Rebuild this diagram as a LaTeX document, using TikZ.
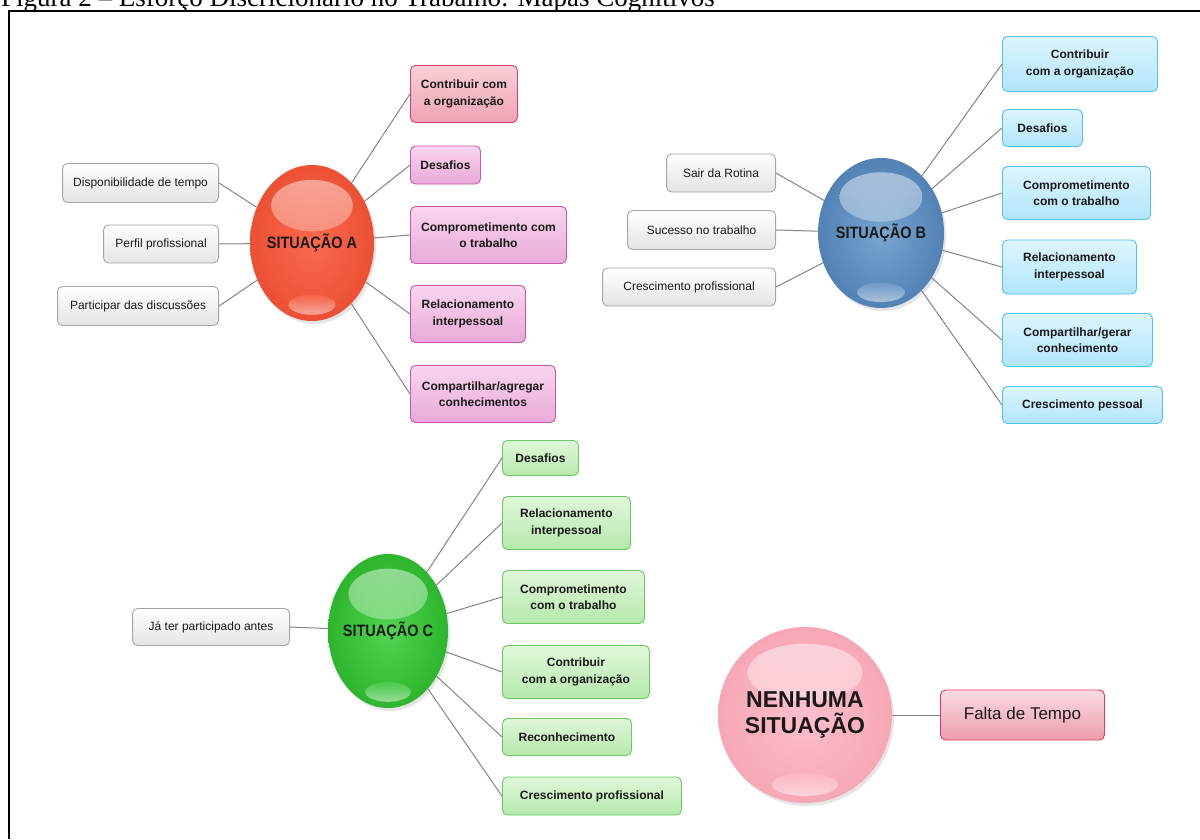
\documentclass[tikz,border=0pt]{standalone}
\usepackage{fontspec}
\setmainfont{Liberation Sans}
\newfontfamily\titlefont{Liberation Serif}
\newfontfamily\narrowfont[FakeStretch=0.88]{Liberation Sans}
\usetikzlibrary{shapes.geometric,shadows}
\definecolor{grayfill}{HTML}{E4E4E4}
\definecolor{graybd}{HTML}{A6A6A6}
\definecolor{redtop}{HTML}{FAD0D6}
\definecolor{redbot}{HTML}{EFA3B2}
\definecolor{redbd}{HTML}{D9436A}
\definecolor{pinktop}{HTML}{F9D6EE}
\definecolor{pinkbot}{HTML}{E9A9D8}
\definecolor{pinkbd}{HTML}{CC55A8}
\definecolor{bluetop}{HTML}{DDF5FE}
\definecolor{bluebot}{HTML}{B2E5FA}
\definecolor{bluebd}{HTML}{50C2EE}
\definecolor{greentop}{HTML}{E0F7DA}
\definecolor{greenbot}{HTML}{B6E9AC}
\definecolor{greenbd}{HTML}{6CC766}
\definecolor{faltatop}{HTML}{FCDCE2}
\definecolor{faltabot}{HTML}{EB9CAD}
\definecolor{faltabd}{HTML}{E03A58}
\definecolor{Abase}{HTML}{FA6A4F}
\definecolor{Aedge}{HTML}{EC5034}
\definecolor{Bbase}{HTML}{78A6D2}
\definecolor{Bedge}{HTML}{5282B4}
\definecolor{Cbase}{HTML}{52D452}
\definecolor{Cedge}{HTML}{2DB52D}
\definecolor{Nbase}{HTML}{FFBFCA}
\definecolor{Nedge}{HTML}{F6A7B6}
\definecolor{connc}{HTML}{858585}
\newcommand\bubblegloss[3]{%
  \shade[top color=white, bottom color=#3, opacity=0.5]
    ([yshift=0.48*#2]path picture bounding box.center) ellipse [x radius=0.66*#1, y radius=0.33*#2];
  \shade[top color=#3, bottom color=white, opacity=0.5]
    ([yshift=-0.79*#2]path picture bounding box.center) ellipse [x radius=0.38*#1, y radius=0.13*#2];
}
\begin{document}
\begin{tikzpicture}[x=1pt,y=-1pt,
  box/.style={rectangle, rounded corners=5pt, line width=0.9pt, inner sep=0pt, align=center,
    font=\fontsize{12}{16.5}\selectfont, text=black!90},
  gbox/.style={box, draw=graybd, top color=white, bottom color=grayfill, anchor=east},
  redbox/.style={box, draw=redbd, top color=redtop, bottom color=redbot, font=\bfseries\fontsize{12}{16.5}\selectfont, anchor=west},
  pinkbox/.style={box, draw=pinkbd, top color=pinktop, bottom color=pinkbot, font=\bfseries\fontsize{12}{16.5}\selectfont, anchor=west},
  bluebox/.style={box, draw=bluebd, top color=bluetop, bottom color=bluebot, font=\bfseries\fontsize{12}{16.5}\selectfont, anchor=west},
  greenbox/.style={box, draw=greenbd, top color=greentop, bottom color=greenbot, font=\bfseries\fontsize{12}{16.5}\selectfont, anchor=west},
  faltabox/.style={box, draw=faltabd, top color=faltatop, bottom color=faltabot, font=\fontsize{17}{20}\selectfont, anchor=west},
  bubble/.style={ellipse, inner ysep=0pt, inner xsep=-30pt, align=center, text=black!90,
    drop shadow={shadow xshift=2pt, shadow yshift=-3pt, opacity=0.2},
    font=\narrowfont\bfseries\fontsize{16.5}{18}\selectfont},
  conn/.style={draw=connc, line width=1pt}
]
\clip (0,0) rectangle (1200,839);
\useasboundingbox (0,0) rectangle (1200,839);
\fill[white] (0,0) rectangle (1200,839);
% title and frame
\node[anchor=base west, inner sep=0pt, font=\titlefont\fontsize{27}{27}\selectfont] (title) at (1,6)
  {Figura 2 – Esforço Discricionário no Trabalho: Mapas Cognitivos};
\draw[line width=2pt] (9,839) -- (9,11) -- (1200,11);

% ---------------- Situacao A
\node[bubble, minimum width=124pt, minimum height=156pt, inner color=Abase, outer color=Aedge,
  path picture={\bubblegloss{62pt}{78pt}{Abase}}] (A) at (312,243) {SITUAÇÃO A};
\node[redbox, minimum width=107pt, minimum height=57pt] (a1) at (410,94) {Contribuir com\\a organização};
\node[pinkbox, minimum width=70pt, minimum height=38pt] (a2) at (410,165) {Desafios};
\node[pinkbox, minimum width=156pt, minimum height=57pt] (a3) at (410,235) {Comprometimento com\\o trabalho};
\node[pinkbox, minimum width=115pt, minimum height=57pt] (a4) at (410,314) {Relacionamento\\interpessoal};
\node[pinkbox, minimum width=145pt, minimum height=57pt] (a5) at (410,394) {Compartilhar/agregar\\conhecimentos};
\node[gbox, minimum width=156pt, minimum height=39pt] (al1) at (219,183) {Disponibilidade de tempo};
\node[gbox, minimum width=115pt, minimum height=38pt] (al2) at (219,244) {Perfil profissional};
\node[gbox, minimum width=161pt, minimum height=39pt] (al3) at (219,306) {Participar das discussões};
\foreach \n in {a1,a2,a3,a4,a5} \draw[conn] (A) -- (\n.west);
\foreach \n in {al1,al2,al3} \draw[conn] (A) -- (\n.east);

% ---------------- Situacao B
\node[bubble, minimum width=126pt, minimum height=150pt, inner color=Bbase, outer color=Bedge,
  path picture={\bubblegloss{63pt}{75pt}{Bbase}}] (B) at (881,233) {SITUAÇÃO B};
\node[bluebox, minimum width=155pt, minimum height=55pt] (b1) at (1002,64) {Contribuir\\com a organização};
\node[bluebox, minimum width=80pt, minimum height=37pt] (b2) at (1002,128) {Desafios};
\node[bluebox, minimum width=148pt, minimum height=53pt] (b3) at (1002,193) {Comprometimento\\com o trabalho};
\node[bluebox, minimum width=134pt, minimum height=54pt] (b4) at (1002,267) {Relacionamento\\interpessoal};
\node[bluebox, minimum width=150pt, minimum height=53pt] (b5) at (1002,340) {Compartilhar/gerar\\conhecimento};
\node[bluebox, minimum width=160pt, minimum height=37pt] (b6) at (1002,405) {Crescimento pessoal};
\node[gbox, minimum width=109pt, minimum height=38pt] (bl1) at (776,173) {Sair da Rotina};
\node[gbox, minimum width=148pt, minimum height=39pt] (bl2) at (776,230) {Sucesso no trabalho};
\node[gbox, minimum width=173pt, minimum height=38pt] (bl3) at (776,287) {Crescimento profissional};
\foreach \n in {b1,b2,b3,b4,b5,b6} \draw[conn] (B) -- (\n.west);
\foreach \n in {bl1,bl2,bl3} \draw[conn] (B) -- (\n.east);

% ---------------- Situacao C
\node[bubble, minimum width=120pt, minimum height=154pt, inner color=Cbase, outer color=Cedge,
  path picture={\bubblegloss{60pt}{77pt}{Cbase}}] (C) at (388,631) {SITUAÇÃO C};
\node[greenbox, minimum width=76pt, minimum height=35pt] (c1) at (502,458) {Desafios};
\node[greenbox, minimum width=128pt, minimum height=53pt] (c2) at (502,523) {Relacionamento\\interpessoal};
\node[greenbox, minimum width=142pt, minimum height=53pt] (c3) at (502,597) {Comprometimento\\com o trabalho};
\node[greenbox, minimum width=147pt, minimum height=53pt] (c4) at (502,672) {Contribuir\\com a organização};
\node[greenbox, minimum width=129pt, minimum height=37pt] (c5) at (502,737) {Reconhecimento};
\node[greenbox, minimum width=179pt, minimum height=38pt] (c6) at (502,796) {Crescimento profissional};
\node[gbox, minimum width=157pt, minimum height=37pt] (cl1) at (290,627) {Já ter participado antes};
\foreach \n in {c1,c2,c3,c4,c5,c6} \draw[conn] (C) -- (\n.west);
\draw[conn] (C) -- (cl1.east);

% ---------------- Nenhuma situacao
\node[bubble, minimum width=174pt, minimum height=176pt, inner color=Nbase, outer color=Nedge,
  font=\bfseries\fontsize{23}{26}\selectfont,
  path picture={\bubblegloss{87pt}{88pt}{Nbase}}] (N) at (805,715) {NENHUMA\\SITUAÇÃO};
\node[faltabox, minimum width=164pt, minimum height=50pt] (f1) at (940,715) {Falta de Tempo};
\draw[conn] (N) -- (f1.west);
\end{tikzpicture}
\end{document}
